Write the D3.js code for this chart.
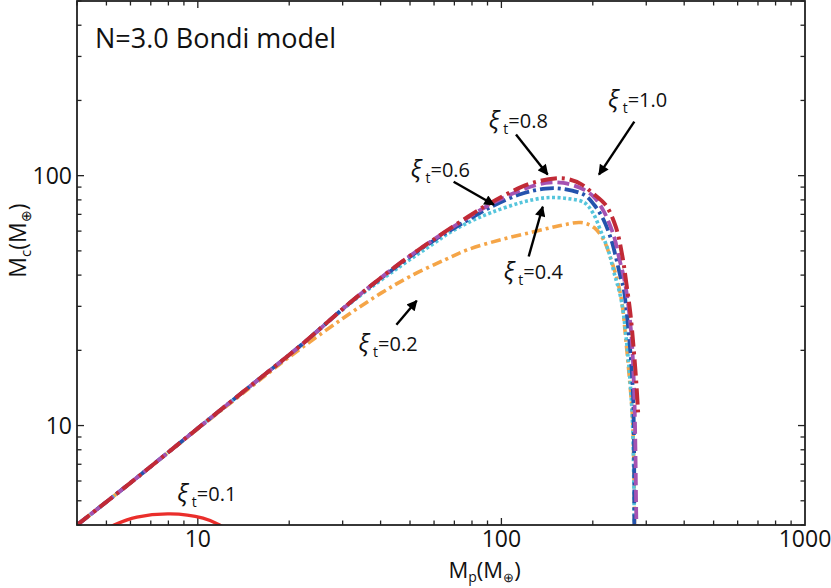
<!DOCTYPE html>
<html>
<head>
<meta charset="utf-8">
<script src="https://cdn.jsdelivr.net/npm/d3@7"></script>
<style>
  html, body { margin: 0; padding: 0; background: #fff; }
  svg { display: block; }
  text { font-family: "Open Sans", "Liberation Sans", sans-serif; fill: #111; }
</style>
</head>
<body>
<svg id="chart" width="831" height="588"></svg>
<script>
// ---------- data (Mp [M_earth], Mc [M_earth]) ----------
const xi01 = [[5.1,3.9],[5.3,4.0],[6.3,4.3],[8.1,4.43],[10.4,4.26],[11.8,4.0],[12.1,3.92]];
const xi02 = [[4,4],[6,5.9],[10,9.7],[15,14.3],[20,18.8],[30,26.8],[40,33.8],[50,39.5],[65,46],[77.6,50.6],[100,55.5],[127.6,59.6],[155,63],[183,64.9],[202,62],[217.6,55],[230,46],[242,37.3],[250,30.5],[257,22],[264,15.5],[270,11],[273,7],[274.5,3.9]];
const xi04 = [[4,4],[6,5.9],[10,9.75],[15,14.5],[21.8,20.9],[32.6,31.6],[46.6,43.5],[59.8,53.5],[68.1,59.5],[79.2,65.6],[92.4,71.1],[116,78],[140,81.6],[165,81],[187.6,78],[200,71.1],[213,59.6],[226,49.3],[235,40.9],[248,31.9],[260,20.1],[270,10.6],[274,3.9]];
const xi06 = [[4,4],[6,5.9],[10,9.75],[15,14.5],[21.8,20.9],[32.6,31.9],[46.6,44.5],[59.8,55],[77.6,66.5],[92.4,75],[116,84.5],[140,88.8],[160,88.5],[187.6,83.7],[202,76.5],[216.7,66.8],[230,55.5],[238,47.5],[248,38.4],[252,36],[262,24.2],[271.5,13.1],[274,3.9]];
const xi08 = [[4,4],[6,5.9],[10,9.75],[15,14.5],[21.8,20.9],[32.6,31.9],[46.6,44.9],[59.8,55.5],[77.6,68],[92.4,77],[116,87.5],[140,93.5],[160,93.5],[183,89],[200,83],[217.6,71.8],[235,57],[244,47],[255,37.5],[267,24.2],[274,13.1],[278,4.5],[278.5,3.9]];
const xi10 = [[4,4],[6,5.9],[10,9.75],[15,14.5],[21.8,20.9],[32.6,31.9],[46.6,44.9],[59.8,55.5],[77.6,68.5],[92.4,78],[116,90],[128,94],[150,97.5],[165,97],[183,92.5],[200,85],[221,76],[238,62.5],[250,48],[258,37],[266,28],[272,21],[278,15],[282,11.3]];

const seriesNames = ["ξt=0.1","ξt=0.2","ξt=0.4","ξt=0.6","ξt=0.8","ξt=1.0"];
const xTickLabels = [10, 100, 1000];
const yTickLabels = [10, 100];

// annotation labels: [Mp, Mc, value text]
const labelPos = [[8.55,4.97,"=0.1"],[33.8,19.8,"=0.2"],[101.7,38.7,"=0.4"],[50.3,99.1,"=0.6"],[90.8,155,"=0.8"],[224.4,189,"=1.0"]];
// arrows: [fromMp, fromMc, toMp, toMc]
const arrows = [[45.1,25.3,52.6,31.6],[123,47.5,136.8,75.1],[69.6,94.6,94.5,76.5],[111.7,146,142,101],[274,164.5,209.6,101]];

// ---------- layout ----------
const W = 831, H = 588;
const m = {left: 77, top: 1, right: 26, bottom: 63};
const iw = W - m.left - m.right, ih = H - m.top - m.bottom;

const svg = d3.select("#chart");
const g = svg.append("g").attr("transform", `translate(${m.left},${m.top})`);

const x = d3.scaleLog().domain([4, 1000]).range([0, iw]);
const y = d3.scaleLog().domain([4, 500]).range([ih, 0]);

const defs = svg.append("defs");
defs.append("clipPath").attr("id","clip")
  .append("rect").attr("x",0).attr("y",0).attr("width",iw).attr("height",ih);
defs.append("marker").attr("id","ah").attr("viewBox","0 0 10 10")
  .attr("refX",9).attr("refY",5).attr("markerWidth",5).attr("markerHeight",4.4)
  .attr("markerUnits","strokeWidth").attr("orient","auto")
  .append("path").attr("d","M0,0 L10,5 L0,10 Z").attr("fill","#000");

// ---------- ticks (inward on all four sides) ----------
const xMinor = [];
for (const d of [1, 10, 100]) for (let k = 2; k <= 9; k++) { const v = d * k; if (v >= 4 && v < 1000) xMinor.push(v); }
const yMinor = [];
for (const d of [1, 10, 100]) for (let k = 2; k <= 9; k++) { const v = d * k; if (v >= 4 && v <= 500 && v !== 10 && v !== 100) yMinor.push(v); }
const MAJ = 7, MIN = 4.5;

const tickG = g.append("g").attr("stroke","#222").attr("stroke-width",1.3);
xMinor.forEach(v => {
  tickG.append("line").attr("x1",x(v)).attr("x2",x(v)).attr("y1",ih).attr("y2",ih-MIN);
  tickG.append("line").attr("x1",x(v)).attr("x2",x(v)).attr("y1",0).attr("y2",MIN);
});
[10,100].forEach(v => {
  tickG.append("line").attr("x1",x(v)).attr("x2",x(v)).attr("y1",ih).attr("y2",ih-MAJ);
  tickG.append("line").attr("x1",x(v)).attr("x2",x(v)).attr("y1",0).attr("y2",MAJ);
});
yMinor.forEach(v => {
  tickG.append("line").attr("y1",y(v)).attr("y2",y(v)).attr("x1",0).attr("x2",MIN);
  tickG.append("line").attr("y1",y(v)).attr("y2",y(v)).attr("x1",iw).attr("x2",iw-MIN);
});
[10,100].forEach(v => {
  tickG.append("line").attr("y1",y(v)).attr("y2",y(v)).attr("x1",0).attr("x2",MAJ);
  tickG.append("line").attr("y1",y(v)).attr("y2",y(v)).attr("x1",iw).attr("x2",iw-MAJ);
});

// tick labels
xTickLabels.forEach(v => {
  g.append("text").attr("x", x(v)).attr("y", ih + 22).attr("text-anchor","middle")
   .attr("font-size",23).text(v);
});
yTickLabels.forEach(v => {
  g.append("text").attr("x", -5).attr("y", y(v) + 8).attr("text-anchor","end")
   .attr("font-size",23).text(v);
});

// ---------- curves ----------
const line = d3.line().x(d => x(d[0])).y(d => y(d[1])).curve(d3.curveCatmullRom.alpha(0.5));
const plot = g.append("g").attr("clip-path","url(#clip)");
const styles = [
  {data: xi01, color: "#ea2e2b", dash: null, w: 3.4},
  {data: xi02, color: "#f5a547", dash: "10,4,3,4", w: 3.6},
  {data: xi04, color: "#55c5dc", dash: "3,2.5", w: 3.6},
  {data: xi06, color: "#2453ad", dash: "14,4,3,4", w: 3.8},
  {data: xi08, color: "#a553b2", dash: "12,5", w: 3.8},
  {data: xi10, color: "#c12a36", dash: "16,5,3,5", w: 4}
];
styles.forEach((s, i) => {
  plot.append("path").datum(s.data).attr("d", line)
    .attr("fill","none").attr("stroke", s.color).attr("stroke-width", s.w)
    .attr("stroke-dasharray", s.dash).attr("class","series").attr("data-name", seriesNames[i]);
});

// ---------- frame ----------
g.append("rect").attr("x",0).attr("y",0).attr("width",iw).attr("height",ih)
  .attr("fill","none").attr("stroke","#222").attr("stroke-width",1.8);

// ---------- annotations ----------
arrows.forEach(a => {
  g.append("line").attr("x1",x(a[0])).attr("y1",y(a[1])).attr("x2",x(a[2])).attr("y2",y(a[3]))
    .attr("stroke","#000").attr("stroke-width",2.4).attr("marker-end","url(#ah)");
});
labelPos.forEach(l => {
  const t = g.append("text").attr("x", x(l[0])).attr("y", y(l[1])).attr("font-size",20);
  t.append("tspan").attr("font-size",24).attr("font-style","italic").text("ξ");
  t.append("tspan").attr("dx",4).attr("dy",6).attr("font-size",14).text("t");
  t.append("tspan").attr("dy",-6).attr("font-size",20).text(l[2]);
});

// title
g.append("text").attr("x", 18).attr("y", 47).attr("font-size",27).text("N=3.0 Bondi model");

// axis labels
const xl = svg.append("text").attr("x", m.left + x(88)).attr("y", 578).attr("text-anchor","middle").attr("font-size",22);
xl.append("tspan").text("M");
xl.append("tspan").attr("dy",4).attr("font-size",14).text("p");
xl.append("tspan").attr("dy",-4).attr("font-size",22).text("(M");
xl.append("tspan").attr("dy",4).attr("font-size",13).text("⊕");
xl.append("tspan").attr("dy",-4).attr("font-size",22).text(")");

const yl = svg.append("text").attr("transform", `translate(26,${m.top + y(55)}) rotate(-90)`)
  .attr("text-anchor","middle").attr("font-size",23);
yl.append("tspan").text("M");
yl.append("tspan").attr("dy",5).attr("font-size",15).text("c");
yl.append("tspan").attr("dy",-5).attr("font-size",23).text("(M");
yl.append("tspan").attr("dy",5).attr("font-size",14).text("⊕");
yl.append("tspan").attr("dy",-5).attr("font-size",23).text(")");
</script>
</body>
</html>
